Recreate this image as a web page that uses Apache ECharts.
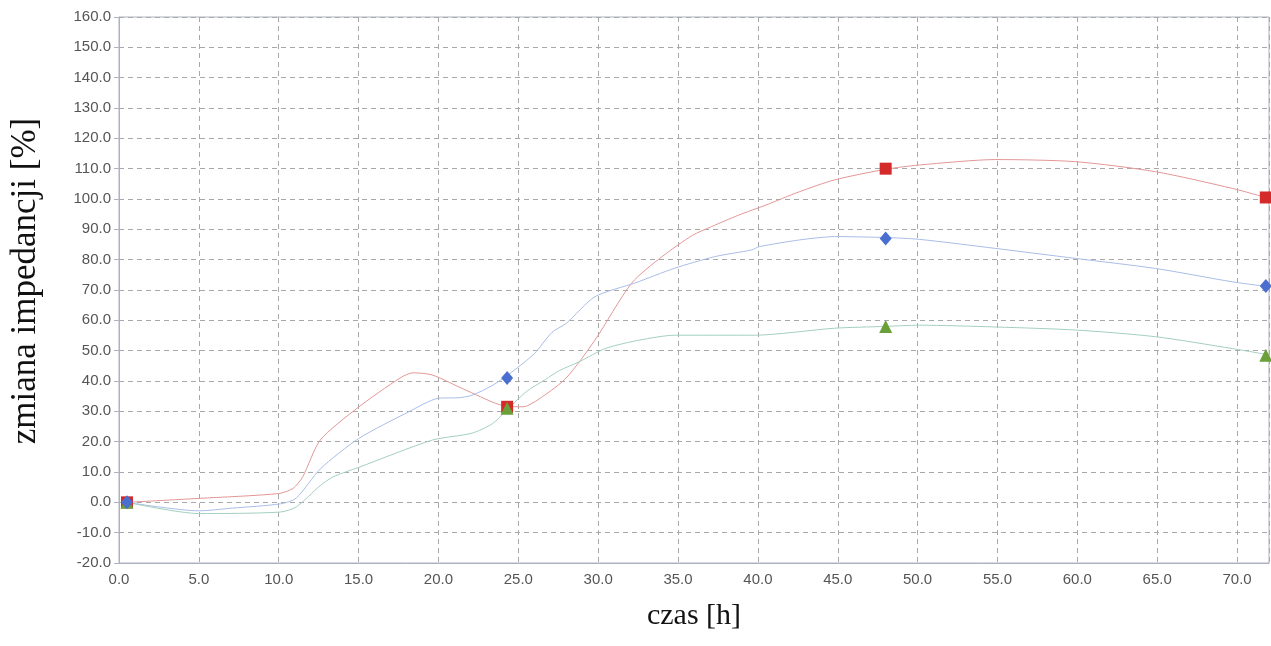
<!DOCTYPE html>
<html>
<head>
<meta charset="utf-8">
<script src="https://cdn.jsdelivr.net/npm/echarts@6/dist/echarts.min.js"></script>
<style>
  html, body { margin: 0; padding: 0; background: #fff; }
  #chart { width: 1271px; height: 646px; }
</style>
</head>
<body>
<div id="chart"></div>
<script>
// czas [h], zmiana impedancji [%]
const redLine = [
  [0.5, 0], [5, 1.3], [10, 2.9], [10.9, 4.6], [11.5, 8.4], [12.6, 20.5], [14.9, 31],
  [17.6, 41], [18.4, 42.7], [19.6, 42], [21.3, 38], [23.4, 33], [24.2, 31.7], [25.3, 31.5],
  [26.5, 34.8], [28, 41], [29.8, 53.5], [32.1, 72.3], [34, 81], [35.9, 88], [37.1, 90.9],
  [38.8, 94.7], [40.5, 98], [42.6, 102.4], [44.8, 106.3], [48, 109.8], [50.1, 111.2],
  [54.9, 113], [59.9, 112.3], [64.9, 109], [69.7, 103.5], [71.8, 100.5]
];
const blueLine = [
  [0.5, 0], [5, -2.8], [7.1, -1.9], [10.1, -0.5], [11.1, 1.4], [12.6, 11], [15, 21],
  [18.2, 30], [20, 34.3], [21.3, 34.5], [22.1, 35.3], [23.4, 38.6], [24.6, 43], [26, 49],
  [27.1, 56], [28, 59], [29.8, 67.8], [32.3, 72.3], [34.8, 77.2], [37.3, 81], [39.6, 83.2],
  [40.1, 84.3], [42.6, 86.5], [44.8, 87.6], [48, 87.3], [50.1, 86.7], [54.9, 83.7],
  [59.9, 80.4], [64.9, 77.1], [69.7, 72.7], [71.8, 71.2]
];
const greenLine = [
  [0.5, 0], [5, -3.7], [10.1, -3.2], [11.1, -1.5], [12.6, 5.5], [13.4, 8.4], [15, 11.5],
  [19.6, 20.5], [22.1, 22.8], [23.4, 26], [24.2, 30], [25.5, 36.5], [26.7, 40.5],
  [27.6, 43.5], [28.8, 46.3], [30.5, 50.8], [32.6, 53.5], [34.8, 55.1], [39.8, 55.1],
  [44.8, 57.4], [48, 58], [50.1, 58.4], [54.9, 57.8], [59.9, 56.8], [64.9, 54.6],
  [69.7, 50.7], [71.8, 48.8]
];
const redPoints = [[0.5, 0], [24.3, 31.5], [48, 110], [71.8, 100.5]];
const bluePoints = [[0.5, 0], [24.3, 41], [48, 87], [71.8, 71.3]];
const greenPoints = [[0.5, 0], [24.3, 31], [48, 58], [71.8, 48.5]];

const axisGray = '#aeb2c0';

const chart = echarts.init(document.getElementById('chart'));

function line(name, data, color) {
  return {
    name: name,
    type: 'line',
    data: data,
    showSymbol: false,
    smooth: 0.25,
    lineStyle: { color: color, width: 1 },
    itemStyle: { color: color },
    z: 2,
  };
}

function points(name, data, symbol, size, color, z) {
  return {
    name: name,
    type: 'scatter',
    data: data,
    symbol: symbol,
    symbolSize: size,
    itemStyle: { color: color, opacity: 1 },
    z: z,
  };
}

chart.setOption({
  animation: false,
  grid: {
    left: 119,
    right: 2,
    top: 17,
    bottom: 83,
    show: true,
    borderColor: axisGray,
    borderWidth: 1,
  },
  xAxis: {
    type: 'value',
    min: 0,
    max: 72,
    interval: 5,
    name: 'czas [h]',
    nameLocation: 'middle',
    nameGap: 38,
    nameTextStyle: { fontFamily: 'Liberation Serif', fontSize: 30, color: '#111' },
    axisLine: { onZero: false, lineStyle: { color: axisGray } },
    axisTick: { show: false },
    axisLabel: {
      color: '#555',
      fontFamily: 'Liberation Sans',
      fontSize: 15,
      margin: 9,
      showMaxLabel: false,
      formatter: (v) => v.toFixed(1),
    },
    splitLine: { lineStyle: { color: '#a8a8a8', type: [5, 4] } },
  },
  yAxis: {
    type: 'value',
    min: -20,
    max: 160,
    interval: 10,
    name: 'zmiana impedancji [%]',
    nameLocation: 'middle',
    nameGap: 76,
    nameTextStyle: { fontFamily: 'Liberation Serif', fontSize: 35, color: '#111', padding: [0, 0, 0, 18] },
    axisLine: { show: true, lineStyle: { color: axisGray } },
    axisTick: { show: true, length: 5, lineStyle: { color: axisGray } },
    axisLabel: {
      color: '#555',
      fontFamily: 'Liberation Sans',
      fontSize: 15,
      margin: 8,
      formatter: (v) => v.toFixed(1),
    },
    splitLine: { lineStyle: { color: '#a8a8a8', type: [5, 4] } },
  },
  series: [
    line('czerwona', redLine, '#e39696'),
    line('niebieska', blueLine, '#a9bde6'),
    line('zielona', greenLine, '#a3cfc0'),
    points('czerwona', redPoints, 'rect', 12, '#d42a2a', 3),
    points('zielona', greenPoints, 'triangle', 13, '#6a9f3a', 4),
    points('niebieska', bluePoints, 'diamond', [12, 14], '#4a6fcf', 5),
  ],
});

window.addEventListener('resize', () => chart.resize());
</script>
</body>
</html>
